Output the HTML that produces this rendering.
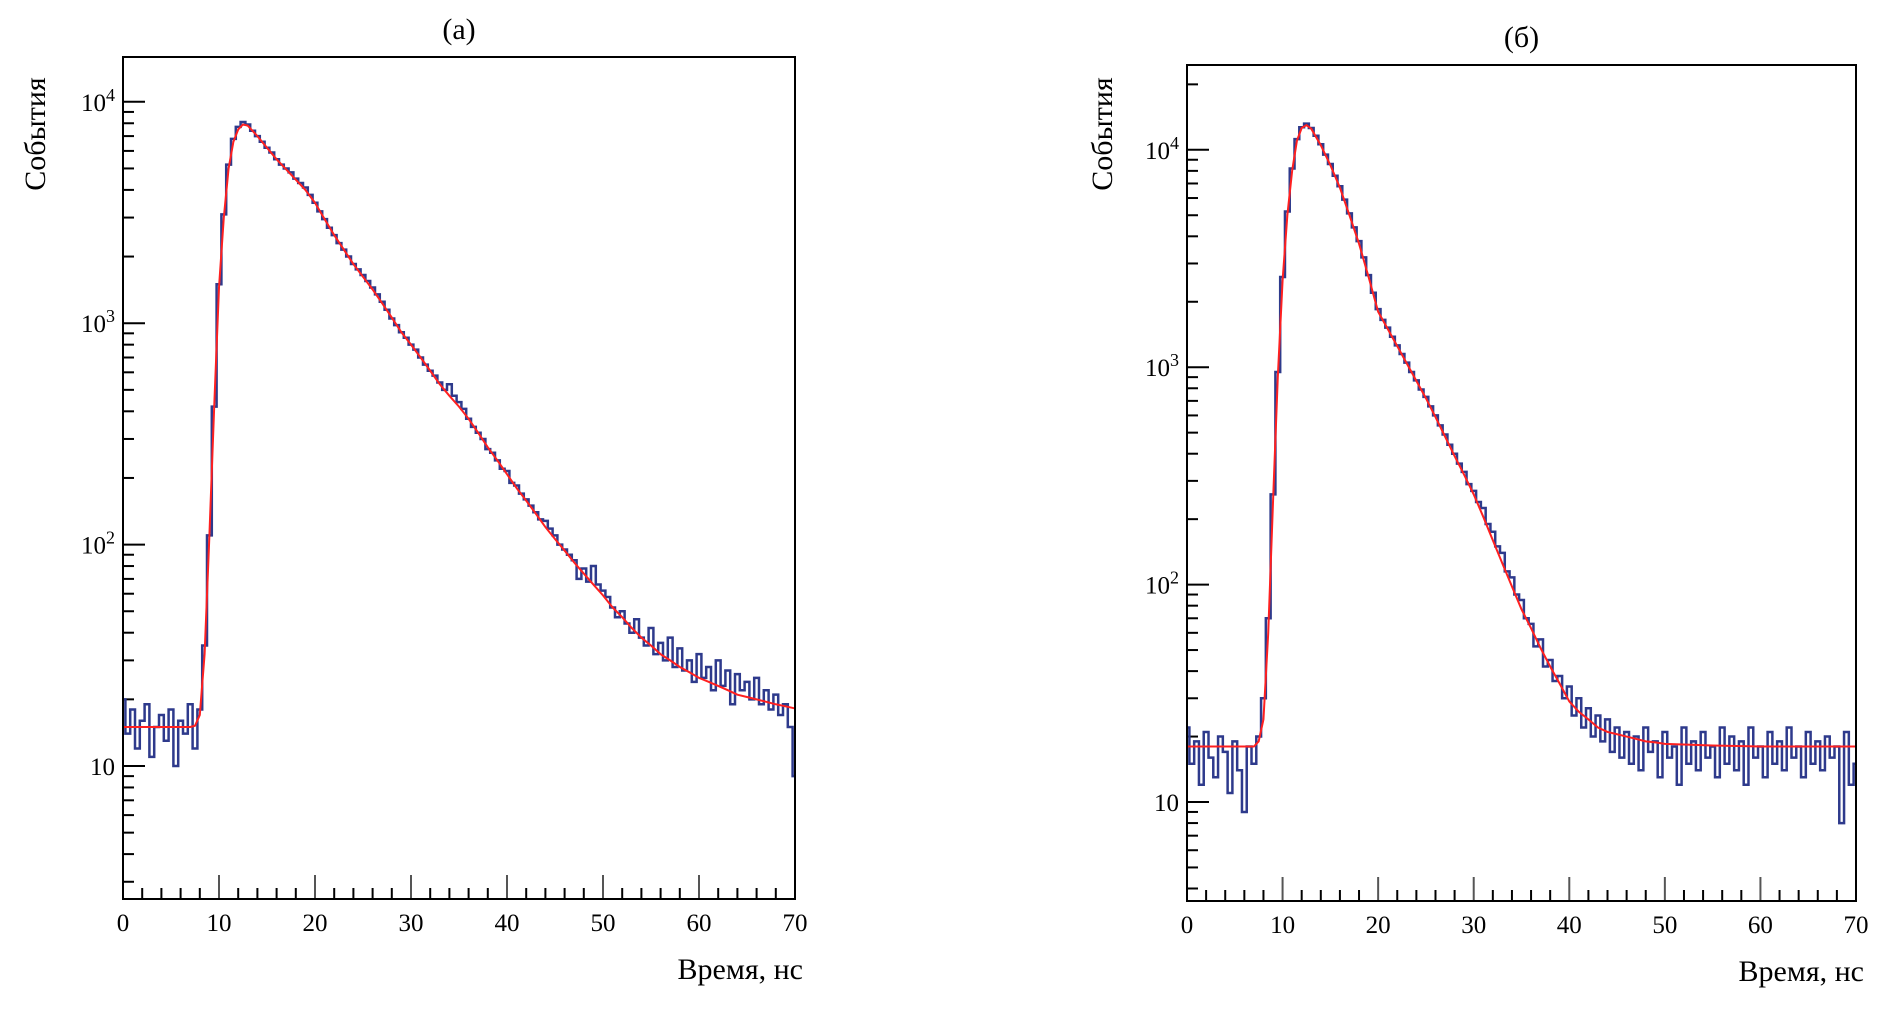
<!DOCTYPE html>
<html><head><meta charset="utf-8"><style>
html,body{margin:0;padding:0;background:#fff;}
svg{display:block;font-family:"Liberation Serif",serif;}
</style></head><body>
<svg id="chart" width="1899" height="1016" viewBox="0 0 1899 1016" xmlns="http://www.w3.org/2000/svg"></svg>
<script>
// ---- Panel (a) data ----
const timesA = [];
const countsA = [20,14,18,12,16,19,11,15,17,13,18,10,16,14,19,12,
18,35,110,420,1500,3100,5200,6800,7700,8100,7900,7400,7000,6600,6200,5900,5500,5200,5000,4800,4500,4300,4100,3800,3500,3200,2950,2700,2500,2300,2150,2000,1850,1750,1650,1550,1450,1350,1250,1150,1050,980,910,860,800,760,700,650,610,580,540,500,530,470,440,410,370,340,320,300,270,260,240,220,215,190,185,170,160,150,140,130,128,118,110,100,95,90,85,70,78,68,80,66,62,58,52,47,50,44,40,46,38,35,42,32,36,30,38,28,34,27,30,24,32,25,28,22,30,23,27,19,26,22,24,20,25,19,22,18,21,17,19,15,9];
const fitTimesA = [0,7,7.5,8,8.5,9,9.5,10,10.5,11,11.5,12,12.5,13,14,15,16,17,18,19,20,21,22,23,24,25,26,27,28,29,30,31,32,33,34,35,36,37,38,39,40,41,42,43,44,45,46,47,48,49,50,51,52,53,54,55,56,57,58,59,60,61,62,63,64,65,66,67,68,69,70];
const fitValuesA = [15,15,15.2,17,32,110,420,1450,3000,5000,6600,7500,7900,7800,7000,6200,5500,4950,4450,4000,3500,2950,2500,2150,1850,1620,1420,1230,1060,910,800,700,610,530,470,420,370,320,275,240,208,180,158,138,120,106,94,83,74,66,59,52,47,42,38,35,32,30,28,26.5,25,24,23,22,21,20.5,20,19.5,19,18.6,18.2];
// ---- Panel (b) data ----
const timesB = [];
const countsB = [22,15,19,12,21,16,13,20,17,11,19,14,9,18,15,20,
30,70,260,950,2600,5200,8200,11200,12700,13200,12600,11600,10600,9500,8600,7600,6800,5900,5100,4400,3800,3200,2650,2200,1850,1650,1520,1380,1260,1150,1050,950,870,790,730,660,600,540,490,440,400,360,330,290,270,240,225,190,175,150,140,115,108,90,85,70,66,52,56,42,45,36,38,30,34,25,30,22,27,20,25,19,24,17,22,16,21,15,20,14,22,17,19,13,21,16,18,12,22,15,19,14,21,16,18,13,22,15,20,14,19,12,22,16,18,13,21,15,19,14,22,16,18,13,21,15,19,14,20,16,18,8,21,12,15];
const fitTimesB = [0,7,7.5,8,8.5,9,9.5,10,10.5,11,11.5,12,12.5,13,14,15,16,17,18,19,20,21,22,23,24,25,26,27,28,29,30,31,32,33,34,35,36,37,38,39,40,41,42,43,44,45,46,47,48,49,50,55,60,70];
const fitValuesB = [18,18,19,24,60,240,900,2500,5000,8000,11000,12600,13000,12500,10500,8500,6700,5000,3700,2600,1800,1500,1250,1040,865,720,590,480,390,320,260,205,160,125,98,77,63,51,42,35,29,26,24,22,21,20.5,20,19.5,19,18.8,18.5,18.2,18,18];
const xTicks = [0,10,20,30,40,50,60,70];
const yDecades = [1,2,3,4];
for (let i = 0; i < countsA.length; i++) timesA.push(i * 0.5);
for (let i = 0; i < countsB.length; i++) timesB.push(i * 0.5);

const NS = "http://www.w3.org/2000/svg";
const svg = document.getElementById('chart');
function mk(tag, attrs, parent) {
  const e = document.createElementNS(NS, tag);
  for (const k in attrs) e.setAttribute(k, attrs[k]);
  (parent || svg).appendChild(e);
  return e;
}

function panel(p) {
  const g = mk('g', {});
  
  
  const xs = t => p.x0 + (t / 70) * (p.x1 - p.x0);
  const ys = v => p.y10 - (Math.log10(v) - 1) * p.dec;
  const clampY = v => Math.min(p.bottom, Math.max(p.top, ys(v)));

  const title = mk('text', {x: (p.x0 + p.x1) / 2, y: p.top - 18, 'font-size': 30, 'text-anchor': 'middle'}, g);
  title.textContent = p.title;
  
  

  const yl = mk('text', {x: 0, y: 0, 'font-size': 30, 'text-anchor': 'middle', transform: `translate(${p.ylx},${p.yly}) rotate(-90)`}, g);
  yl.textContent = 'События';
  
  

  const xl = mk('text', {x: p.x1 + 8, y: p.bottom + 80, 'font-size': 30, 'text-anchor': 'end'}, g);
  xl.textContent = 'Время, нс';
  
  

  for (let t = 0; t <= 70; t += 2) {
    const major = t % 10 === 0;
    const ln = mk('line', {x1: xs(t), x2: xs(t), y1: p.bottom, y2: p.bottom - (major ? 24 : 11), stroke: major ? '#555' : '#000', 'stroke-width': 2}, g);
    
    
  }
  xTicks.forEach(t => {
    const tx = mk('text', {x: xs(t), y: p.bottom + 32, 'font-size': 25, 'text-anchor': 'middle'}, g);
    tx.textContent = t;
    
    
  });

  for (let d = 0; d <= 4; d++) {
    for (let m = 1; m <= 9; m++) {
      const v = m * Math.pow(10, d);
      const y = ys(v);
      if (y > p.bottom || y < p.top) continue;
      const ln = mk('line', {x1: p.x0, x2: p.x0 + (m === 1 ? 22 : 11), y1: y, y2: y, stroke: '#000', 'stroke-width': 2}, g);
      
      
    }
  }
  yDecades.forEach(d => {
    const y = ys(Math.pow(10, d));
    const tx = mk('text', {x: p.x0 - 8, y: y + 9, 'font-size': 25, 'text-anchor': 'end'}, g);
    tx.textContent = '10';
    if (d !== 1) {
      const s = mk('tspan', {dy: -10, 'font-size': 18}, tx);
      s.textContent = d;
    }
    
    
  });

  let dpath = '';
  const w = 0.5;
  p.times.forEach((t, i) => {
    const xa = xs(Math.max(0, t - w / 2)), xb = xs(Math.min(70, t + w / 2));
    const y = clampY(p.counts[i]);
    dpath += (i === 0 ? `M${xa},${y}` : `L${xa},${y}`) + `L${xb},${y}`;
  });
  const hist = mk('path', {d: dpath, fill: 'none', stroke: '#2e3a8c', 'stroke-width': 2.5}, g);
  
  

  const pts = p.fitT.map((t, i) => `${xs(t)},${clampY(p.fitV[i])}`).join(' ');
  const fit = mk('polyline', {points: pts, fill: 'none', stroke: '#ff2020', 'stroke-width': 2}, g);
  
  

  const fr = mk('rect', {x: p.x0, y: p.top, width: p.x1 - p.x0, height: p.bottom - p.top, fill: 'none', stroke: '#000', 'stroke-width': 2}, g);
  
  
}

panel({name: 'panel-a', title: '(a)', x0: 123, x1: 795, top: 57, bottom: 899, y10: 766, dec: 221.4,
  ylx: 45, yly: 134, times: timesA, counts: countsA, fitT: fitTimesA, fitV: fitValuesA});
panel({name: 'panel-b', title: '(б)', x0: 1187, x1: 1856, top: 65, bottom: 901, y10: 802, dec: 217.4,
  ylx: 1112, yly: 134, times: timesB, counts: countsB, fitT: fitTimesB, fitV: fitValuesB});
</script>
</body></html>
